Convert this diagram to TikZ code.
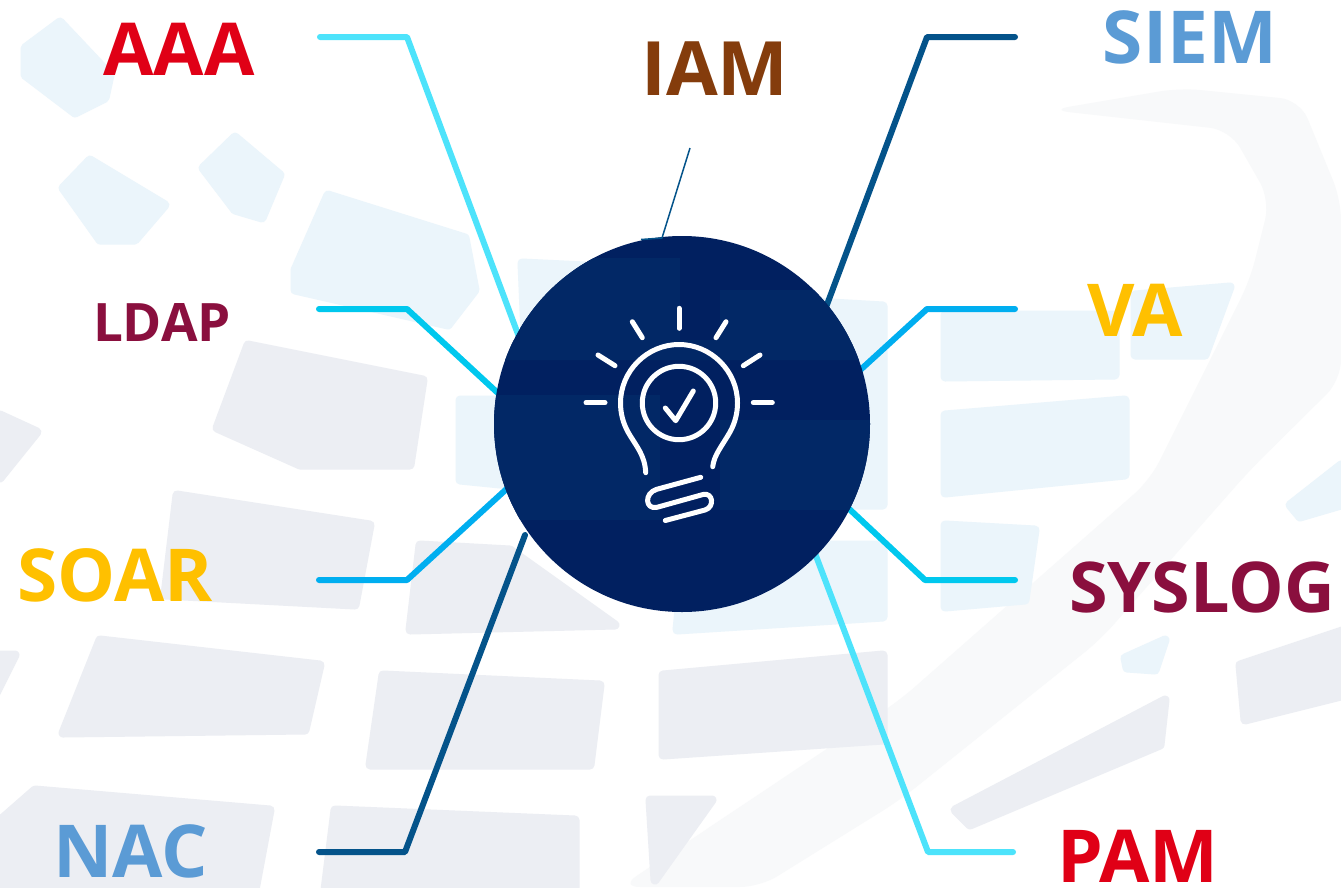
\documentclass[tikz,border=0pt]{standalone}
\usepackage{fontspec}
\setmainfont{Open Sans}
\definecolor{cred}{HTML}{E00016}
\definecolor{cbrown}{HTML}{843C0C}
\definecolor{cblue}{HTML}{5B9BD5}
\definecolor{cmaroon}{HTML}{8A0F3E}
\definecolor{cgold}{HTML}{FFC000}
\definecolor{lnA}{HTML}{4DE3FB}
\definecolor{lnB}{HTML}{00C8EE}
\definecolor{lnC}{HTML}{00AEF0}
\definecolor{lnD}{HTML}{04538A}
\definecolor{navy}{HTML}{012060}
\definecolor{navyb}{HTML}{022866}
\definecolor{pblue}{HTML}{EBF5FB}
\definecolor{pgrey}{HTML}{ECEEF3}
\definecolor{pswoosh}{HTML}{F8F9FA}
\tikzset{
  patchb/.style={fill=pblue,draw=pblue,line width=9pt,line join=round},
  patchg/.style={fill=pgrey,draw=pgrey,line width=9pt,line join=round},
  patchn/.style={fill=navyb,draw=none},
  conn/.style={line width=6pt,line cap=round,line join=round},
  lab/.style={anchor=base,inner sep=0pt,font=\fontsize{73}{73}\selectfont\bfseries},
  labs/.style={anchor=base,inner sep=0pt,font=\fontsize{53}{53}\selectfont\bfseries},
  core/.style={circle,fill=navy,draw=none,minimum size=376pt,inner sep=0pt},
  bulb/.style={draw=white,line width=5pt,line cap=round,line join=round}
}
\begin{document}
\begin{tikzpicture}[x=1pt,y=-1pt]
\useasboundingbox (0,0) rectangle (1341,887);
\fill[white] (0,0) rectangle (1341,887);
% faint background
\fill[pswoosh,rounded corners=20pt] (620,887) -- (900,700) -- (1150,480) -- (1250,280) -- (1270,200) -- (1230,130) -- (1050,110) -- (1180,88) -- (1300,100) -- (1341,200) -- (1341,380) -- (1250,470) -- (1100,640) -- (900,800) -- (760,887) -- cycle;
\path[patchb] (25,48) -- (60,22) -- (110,75) -- (105,98) -- (75,113) -- (25,75) -- cycle;
\path[patchb] (63,188) -- (90,160) -- (165,205) -- (135,240) -- (100,240) -- cycle;
\path[patchb] (203,168) -- (235,137) -- (280,175) -- (262,218) -- (235,210) -- cycle;
\path[patchb] (295,270) -- (328,195) -- (465,238) -- (475,290) -- (448,325) -- (295,290) -- cycle;
\path[patchb] (522,263) -- (585,266) -- (525,335) -- cycle;
\path[patchb] (460,400) -- (500,400) -- (510,485) -- (460,480) -- cycle;
\path[patchb] (727,297) -- (883,306) -- (883,505) -- (800,505) -- cycle;
\path[patchb] (945,315) -- (1115,315) -- (1115,375) -- (945,377) -- cycle;
\path[patchb] (1135,295) -- (1230,287) -- (1205,355) -- (1135,355) -- cycle;
\path[patchb] (945,415) -- (1125,400) -- (1125,475) -- (945,493) -- cycle;
\path[patchb] (945,525) -- (1035,530) -- (1025,600) -- (945,607) -- cycle;
\path[patchb] (685,545) -- (883,545) -- (883,617) -- (677,630) -- cycle;
\path[patchb] (1290,505) -- (1341,465) -- (1341,505) -- (1300,517) -- cycle;
\path[patchb] (1125,658) -- (1165,640) -- (1155,670) -- (1127,668) -- cycle;
\path[patchg] (217,428) -- (248,345) -- (423,380) -- (410,465) -- (300,465) -- cycle;
\path[patchg] (177,495) -- (370,525) -- (355,605) -- (165,595) -- cycle;
\path[patchg] (0,415) -- (37,432) -- (0,478) -- cycle;
\path[patchg] (420,545) -- (510,550) -- (615,625) -- (410,630) -- cycle;
\path[patchg] (100,640) -- (320,665) -- (305,730) -- (63,733) -- cycle;
\path[patchg] (383,675) -- (600,685) -- (590,765) -- (370,765) -- cycle;
\path[patchg] (663,675) -- (883,655) -- (883,740) -- (663,755) -- cycle;
\path[patchg] (335,810) -- (575,820) -- (575,890) -- (325,890) -- cycle;
\path[patchg] (35,790) -- (270,810) -- (255,890) -- (-5,890) -- (-5,825) -- cycle;
\path[patchg] (650,800) -- (712,800) -- (655,880) -- cycle;
\path[patchg] (955,810) -- (1165,700) -- (1160,745) -- (970,825) -- cycle;
\path[patchg] (1240,665) -- (1345,630) -- (1345,695) -- (1245,720) -- cycle;
\path[patchg] (-5,655) -- (15,655) -- (-5,695) -- cycle;
% connector points
\coordinate (a1) at (320,37);   \coordinate (a2) at (407,37);  \coordinate (a3) at (522,345);
\coordinate (l1) at (319,309);  \coordinate (l2) at (407,309); \coordinate (l3) at (500,395);
\coordinate (s1) at (319,580);  \coordinate (s2) at (407,580); \coordinate (s3) at (512,484);
\coordinate (n1) at (319,852);  \coordinate (n2) at (405,852); \coordinate (n3) at (525,535);
\coordinate (e1) at (1015,37);  \coordinate (e2) at (927,37);  \coordinate (e3) at (825,310);
\coordinate (v1) at (1015,309); \coordinate (v2) at (927,309); \coordinate (v3) at (857,373);
\coordinate (y1) at (1015,580); \coordinate (y2) at (925,580); \coordinate (y3) at (845,505);
\coordinate (p1) at (1013,852); \coordinate (p2) at (928,852); \coordinate (p3) at (813,548);
\coordinate (i1) at (690,148);  \coordinate (i2) at (662,238); \coordinate (i3) at (641,239.5);
\draw[conn,lnA] (a1) -- (a2) -- (a3);
\draw[conn,lnB] (l1) -- (l2) -- (l3);
\draw[conn,lnC] (s1) -- (s2) -- (s3);
\draw[conn,lnD] (n1) -- (n2) -- (n3);
\draw[conn,lnD] (e1) -- (e2) -- (e3);
\draw[conn,lnC] (v1) -- (v2) -- (v3);
\draw[conn,lnB] (y1) -- (y2) -- (y3);
\draw[conn,lnA] (p1) -- (p2) -- (p3);
% centre
\node[core] (hub) at (682,424) {};
\begin{scope}
\clip (682,424) circle (188);
\path[patchn] (490,340) -- (720,340) -- (720,290) -- (890,290) -- (890,360) -- (490,360) -- cycle;
\path[patchn] (490,395) -- (660,395) -- (660,520) -- (490,520) -- cycle;
\path[patchn] (720,420) -- (890,420) -- (890,510) -- (720,510) -- cycle;
\path[patchn] (520,258) -- (680,258) -- (680,340) -- (520,340) -- cycle;
\end{scope}
\draw[line width=1.5pt,lnD,line join=round] (i1) -- (i2) -- (i3);
% bulb icon
\draw[bulb] (645.7,472.7) .. controls (645,455) and (636,446) .. (628,432)
  .. controls (623,423) and (620.5,413) .. (620.5,403)
  .. controls (620.5,371) and (647,344.5) .. (679,344.5)
  .. controls (711,344.5) and (737.5,371) .. (737.5,403)
  .. controls (737.5,413) and (735,423) .. (730,432)
  .. controls (722,446) and (714,455) .. (712.7,466.7);
\draw[bulb] (679,403) circle (36.7);
\draw[bulb] (665.3,408) -- (675.7,420.7) -- (693.3,391);
\draw[bulb] (679,308.3) -- (679,328.3);
\draw[bulb] (632.3,321.7) -- (642.3,337.7);
\draw[bulb] (726,321.7) -- (716,337.7);
\draw[bulb] (598,355) -- (615,365.7);
\draw[bulb] (760,355) -- (743.3,365.7);
\draw[bulb] (586,402.7) -- (605,402.7);
\draw[bulb] (753.3,402.7) -- (772.3,402.7);
\draw[bulb] (700.7,477.3) -- (656.7,489.3) .. controls (644,493) and (645,510) .. (657,507.3)
  -- (703,494.5) .. controls (713,492) and (715,507) .. (705,510) -- (665.3,520.5);
% labels
\node[lab,text=cred] (aaa) at (179,75) {AAA};
\node[lab,text=cbrown,font=\fontsize{75}{75}\selectfont\bfseries] (iam) at (715,95) {IAM};
\node[lab,text=cblue] (siem) at (1190,63) {SIEM};
\node[labs,text=cmaroon] (ldap) at (162,341) {LDAP};
\node[lab,text=cgold] (va) at (1135,336) {VA};
\node[lab,text=cgold] (soar) at (115,601) {SOAR};
\node[lab,text=cmaroon,font=\fontsize{70}{70}\selectfont\bfseries] (syslog) at (1202,612) {SYSLOG};
\node[lab,text=cblue] (nac) at (131,877) {NAC};
\node[lab,text=cred] (pam) at (1138,882) {PAM};
\end{tikzpicture}
\end{document}
